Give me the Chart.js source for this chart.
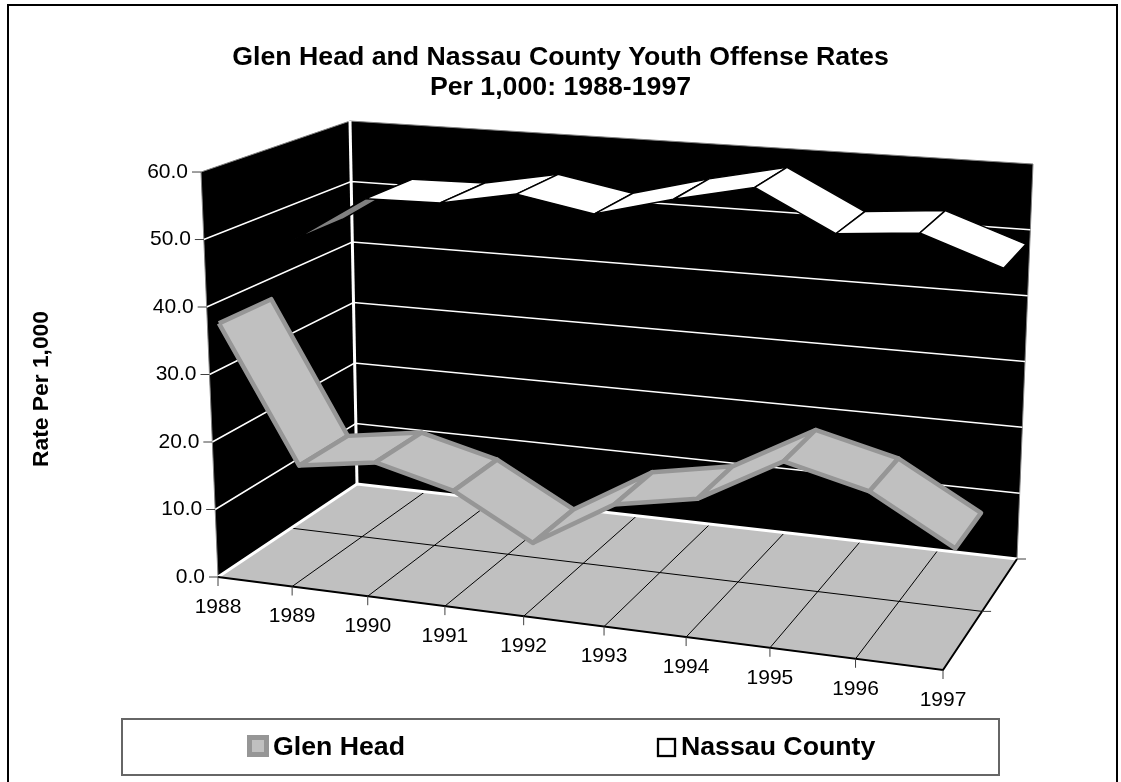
<!DOCTYPE html>
<html>
<head>
<meta charset="utf-8">
<title>Youth Offense Rates</title>
<script src="https://cdn.jsdelivr.net/npm/chart.js@4/dist/chart.umd.min.js"></script>
<style>
  html, body { margin: 0; padding: 0; background: #fff; }
  #wrap { position: relative; width: 1121px; height: 782px; }
</style>
</head>
<body>
<div id="wrap"><canvas id="rateChart"></canvas></div>
<script>
// === Data ===
const years = ["1988", "1989", "1990", "1991", "1992", "1993", "1994", "1995", "1996", "1997"];
const glenHead = [36.8, 16.8, 18.5, 15.6, 9.4, 16.2, 18.3, 24.8, 21.9, 15.4];
const nassauCounty = [44.4, 51.8, 52.0, 54.2, 52.0, 55.1, 57.7, 51.7, 52.7, 48.5];
const rateTicks = [0, 10, 20, 30, 40, 50, 60];
const titleLines = ["Glen Head and Nassau County Youth Offense Rates", "Per 1,000: 1988-1997"];
const axisTitle = "Rate Per 1,000";
const seriesNames = ["Glen Head", "Nassau County"];

const FONT = '"Liberation Sans", Arial, sans-serif';
const RATE_MAX = 60;

// === 3D box: screen corners of the floor and the top face ===
// order: front-left, back-left, back-right, front-right
const floorCorners = [[218, 577], [357, 484], [1017, 559], [943, 670]];
const topCorners = [[201, 172], [350, 121], [1033, 164], [969, 226]];

// depth bands of the two ribbons, 0 = front edge, 1 = back wall
const glenBand = [0.07, 0.41];
const nassauBand = [0.57, 0.93];

// unit square -> quad, projective
function quadMapper(q) {
  const [p0, p3, p2, p1] = [q[0], q[1], q[2], q[3]];
  const dx1 = p1[0] - p2[0], dx2 = p3[0] - p2[0], sx = p0[0] - p1[0] + p2[0] - p3[0];
  const dy1 = p1[1] - p2[1], dy2 = p3[1] - p2[1], sy = p0[1] - p1[1] + p2[1] - p3[1];
  const den = dx1 * dy2 - dx2 * dy1;
  const g = (sx * dy2 - dx2 * sy) / den;
  const h = (dx1 * sy - sx * dy1) / den;
  const a = p1[0] - p0[0] + g * p1[0], b = p3[0] - p0[0] + h * p3[0], c = p0[0];
  const d = p1[1] - p0[1] + g * p1[1], e = p3[1] - p0[1] + h * p3[1], f = p0[1];
  return (u, v) => {
    const w = g * u + h * v + 1;
    return [(a * u + b * v + c) / w, (d * u + e * v + f) / w];
  };
}

const floorAt = quadMapper(floorCorners);
const topAt = quadMapper(topCorners);

// category index, rate value, depth -> screen point
function project(cat, rate, depth) {
  const u = cat / (years.length - 1);
  const lo = floorAt(u, depth), hi = topAt(u, depth), t = rate / RATE_MAX;
  return { x: lo[0] + (hi[0] - lo[0]) * t, y: lo[1] + (hi[1] - lo[1]) * t };
}

// === Dataset helpers ===
const layers = [];

function addLine(points, color, width) {
  layers.push({
    type: "scatter", showLine: true, data: points, borderColor: color, borderWidth: width,
    pointRadius: 0, fill: false, clip: false, tension: 0, borderCapStyle: "butt"
  });
}

function addShape(points, fillColor, lineColor, width, label, join) {
  layers.push({
    type: "scatter", showLine: true, label: label, data: points.concat([points[0]]),
    backgroundColor: fillColor, borderColor: lineColor, borderWidth: width,
    pointRadius: 0, fill: "shape", clip: false, tension: 0, borderJoinStyle: join || "miter"
  });
}

function signedArea(p) {
  let s = 0;
  p.forEach((a, i) => { const b = p[(i + 1) % p.length]; s += a.x * b.y - b.x * a.y; });
  return s / 2;
}

// One ribbon segment per pair of years; the underside gets the shaded colour
function addRibbon(values, band, topColor, underColor, lineColor, width, label, join) {
  for (let i = 0; i < values.length - 1; i++) {
    const quad = [
      project(i, values[i], band[0]), project(i, values[i], band[1]),
      project(i + 1, values[i + 1], band[1]), project(i + 1, values[i + 1], band[0])
    ];
    addShape(quad, signedArea(quad) > 0 ? topColor : underColor, lineColor, width, label, join);
  }
}

const lastCat = years.length - 1;

// === Walls and floor ===
addShape([project(0, 0, 0), project(0, 60, 0), project(0, 60, 1), project(0, 0, 1)], "#000000", "#808080", 1);
addShape([project(0, 0, 1), project(0, 60, 1), project(lastCat, 60, 1), project(lastCat, 0, 1)], "#000000", "#808080", 1);
addShape([project(0, 0, 0), project(0, 0, 1), project(lastCat, 0, 1), project(lastCat, 0, 0)], "#c0c0c0", "#c0c0c0", 1);

// wall gridlines
rateTicks.filter(v => v > 0 && v < RATE_MAX).forEach(v => {
  addLine([project(0, v, 0), project(0, v, 1), project(lastCat, v, 1)], "#ffffff", 1.5);
});

// floor gridlines
for (let i = 1; i < lastCat; i++) addLine([project(i, 0, 0), project(i, 0, 1)], "#000000", 1);
addLine([project(0, 0, 0.5), project(lastCat, 0, 0.5)], "#000000", 1);

// heavy edges
addLine([project(0, 0, 0), project(0, 0, 1), project(lastCat, 0, 1)], "#ffffff", 3);
addLine([project(0, 0, 1), project(0, 60, 1)], "#ffffff", 3);
addLine([project(0, 0, 0), project(lastCat, 0, 0), project(lastCat, 0, 1)], "#000000", 2);

// === Ribbons, back series first ===
addRibbon(nassauCounty, nassauBand, "#ffffff", "#808080", "#000000", 1.5, seriesNames[1], "miter");
addRibbon(glenHead, glenBand, "#c0c0c0", "#808080", "#969696", 4.5, seriesNames[0], "round");

// === Axis text, tick marks, legend and frame ===
const boxPlugin = {
  id: "boxAnnotations",
  afterDraw(chart) {
    const { ctx, scales: { x, y } } = chart;
    const px = p => [x.getPixelForValue(p.x), y.getPixelForValue(p.y)];
    ctx.save();

    // page frame
    ctx.strokeStyle = "#000000";
    ctx.lineWidth = 2;
    ctx.strokeRect(8, 5, 1109, 800);

    // rate ticks and labels
    ctx.lineWidth = 1;
    ctx.strokeStyle = "#404040";
    ctx.fillStyle = "#000000";
    ctx.font = "21px " + FONT;
    ctx.textAlign = "right";
    ctx.textBaseline = "middle";
    rateTicks.forEach(v => {
      const [tx, ty] = px(project(0, v, 0));
      ctx.beginPath();
      ctx.moveTo(tx - 9, ty);
      ctx.lineTo(tx, ty);
      ctx.stroke();
      ctx.fillText(v.toFixed(1), tx - 13, ty);
    });

    // year ticks and labels
    ctx.textAlign = "center";
    years.forEach((label, i) => {
      const [tx, ty] = px(project(i, 0, 0));
      ctx.beginPath();
      ctx.moveTo(tx, ty);
      ctx.lineTo(tx, ty + 9);
      ctx.stroke();
      ctx.fillText(label, tx, ty + 30);
    });

    // depth ticks on the right edge of the floor
    [0.5, 1].forEach(d => {
      const [tx, ty] = px(project(lastCat, 0, d));
      ctx.beginPath();
      ctx.moveTo(tx, ty);
      ctx.lineTo(tx + 9, ty);
      ctx.stroke();
    });

    // rotated axis title
    ctx.save();
    ctx.translate(42, 389);
    ctx.rotate(-Math.PI / 2);
    ctx.font = "bold 22.8px " + FONT;
    ctx.fillText(axisTitle, 0, 0);
    ctx.restore();

    // legend
    ctx.strokeStyle = "#666666";
    ctx.lineWidth = 2;
    ctx.strokeRect(122, 719, 877, 56);
    ctx.font = "bold 26.7px " + FONT;
    ctx.textAlign = "left";
    ctx.fillStyle = "#c0c0c0";
    ctx.fillRect(247, 735, 22, 22);
    ctx.strokeStyle = "#969696";
    ctx.lineWidth = 5;
    ctx.strokeRect(249.5, 737.5, 17, 17);
    ctx.fillStyle = "#000000";
    ctx.fillText(seriesNames[0], 273, 748);
    ctx.strokeStyle = "#000000";
    ctx.lineWidth = 2.3;
    ctx.strokeRect(658, 739, 17, 17);
    ctx.fillText(seriesNames[1], 681, 748);
    ctx.restore();
  }
};

// === Chart setup ===
// x and y run in screen units below the title so the projected box lands where it should
new Chart(document.getElementById("rateChart"), {
  type: "scatter",
  data: { datasets: layers.slice().reverse() },
  options: {
    responsive: true,
    maintainAspectRatio: false,
    animation: false,
    layout: { padding: 0 },
    plugins: {
      legend: { display: false },
      tooltip: { enabled: false },
      title: {
        display: true,
        text: titleLines,
        color: "#000000",
        font: { family: FONT, size: 26.7, weight: "bold", lineHeight: 1.124 },
        padding: { top: 43, bottom: 7 }
      }
    },
    scales: {
      x: { type: "linear", display: false, min: 0, max: 1121 },
      y: { type: "linear", display: false, reverse: true, min: 110, max: 782 }
    }
  },
  plugins: [boxPlugin]
});
</script>
</body>
</html>
